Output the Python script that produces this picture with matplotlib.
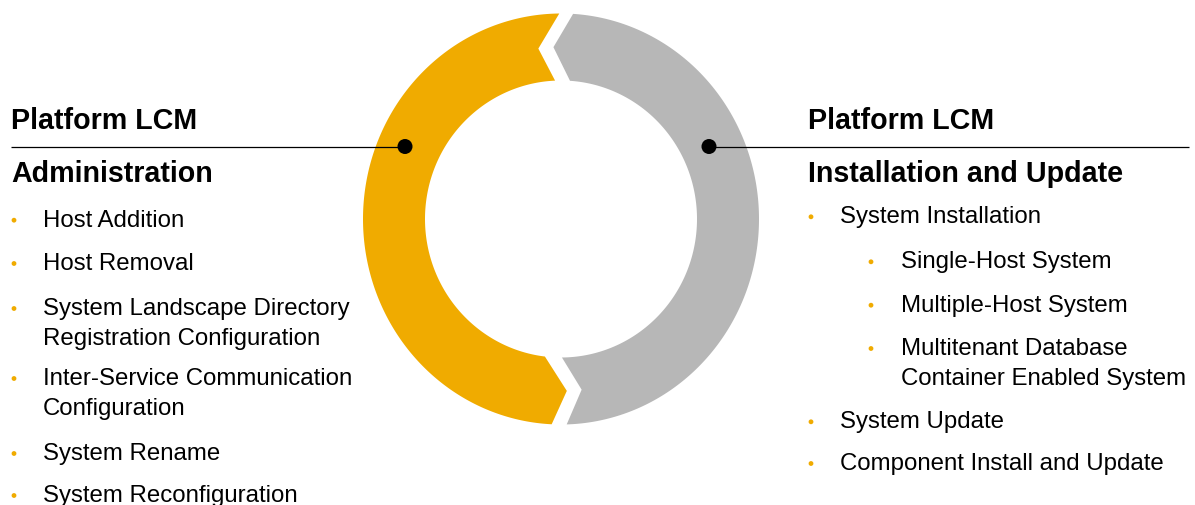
import numpy as np
import matplotlib
matplotlib.use("Agg")
import matplotlib.pyplot as plt
from matplotlib.patches import Polygon, Circle

# ---- content ----
left_heading = ["Platform LCM", "Administration"]
right_heading = ["Platform LCM", "Installation and Update"]

left_items = [
    "Host Addition",
    "Host Removal",
    "System Landscape Directory\nRegistration Configuration",
    "Inter-Service Communication\nConfiguration",
    "System Rename",
    "System Reconfiguration",
]
left_baselines = [226.7, 270, 315, 385, 460, 502]

right_items = [
    "System Installation",
    "Single-Host System",
    "Multiple-Host System",
    "Multitenant Database\nContainer Enabled System",
    "System Update",
    "Component Install and Update",
]
right_levels = [0, 1, 1, 1, 0, 0]
right_baselines = [223.3, 268.3, 311.7, 355, 428.3, 470]

# ---- styles ----
ORANGE = "#F0AB00"
GREY = "#B7B7B7"
FONT = "Liberation Sans"
W, H = 1195, 505

fig = plt.figure(figsize=(W / 100, H / 100), dpi=100)
ax = fig.add_axes([0, 0, 1, 1])
ax.set_xlim(0, W)
ax.set_ylim(H, 0)
ax.axis("off")

# ---- ring ----
cx, cy = 561, 219
ro = (198, 205.5)
ri = (136, 138.5)
rm = ((ro[0] + ri[0]) / 2, (ro[1] + ri[1]) / 2)


def pt(t_deg, r):
    t = np.radians(t_deg)
    return np.column_stack([cx + r[0] * np.cos(t), cy - r[1] * np.sin(t)])


def segment(o0, o1, tip, i0, i1, tip2):
    outer = pt(np.linspace(o0, o1, 200), ro)
    inner = pt(np.linspace(i0, i1, 200), ri)
    return np.vstack([outer, pt(np.array([tip]), rm), inner,
                      pt(np.array([tip2]), rm)])


orange_poly = segment(90.5, 267.3, 272.0, 263.2, 92.5, 97.8)
grey_poly = segment(86.5, -88.35, -82.9, -89.6, 86.2, 92.6)
ax.add_patch(Polygon(orange_poly, closed=True, fc=ORANGE, ec="none"))
ax.add_patch(Polygon(grey_poly, closed=True, fc=GREY, ec="none"))

# ---- connector lines and dots ----
ax.plot([11, 405], [146.5, 146.5], color="black", lw=0.9, solid_capstyle="butt")
ax.plot([709, 1189], [146.5, 146.5], color="black", lw=0.9, solid_capstyle="butt")
ax.add_patch(Circle((405, 146.5), 7.5, fc="black", ec="none"))
ax.add_patch(Circle((709, 146.5), 7.5, fc="black", ec="none"))

# ---- headings ----
hkw = dict(fontfamily=FONT, fontweight="bold", fontsize=20.6, va="baseline",
           ha="left", color="black")
ax.text(11, 129, left_heading[0], **hkw)
ax.text(11, 181.5, left_heading[1], **hkw)
ax.text(808, 129, right_heading[0], **hkw)
ax.text(808, 181.5, right_heading[1], **hkw)

# ---- bullet lists ----
ikw = dict(fontfamily=FONT, fontsize=17.3, va="baseline", ha="left", color="black")
LINE_GAP = 29.5


def bullet_item(xb, xt, y, text):
    ax.add_patch(Circle((xb, y - 6.5), 2.4, fc=ORANGE, ec="none"))
    for k, line in enumerate(text.split("\n")):
        ax.text(xt, y + k * LINE_GAP, line, **ikw)


for text, y in zip(left_items, left_baselines):
    bullet_item(14, 43, y, text)

for text, lvl, y in zip(right_items, right_levels, right_baselines):
    if lvl == 0:
        bullet_item(811, 840, y, text)
    else:
        bullet_item(871, 901, y, text)

fig.savefig("out.png", dpi=100)
